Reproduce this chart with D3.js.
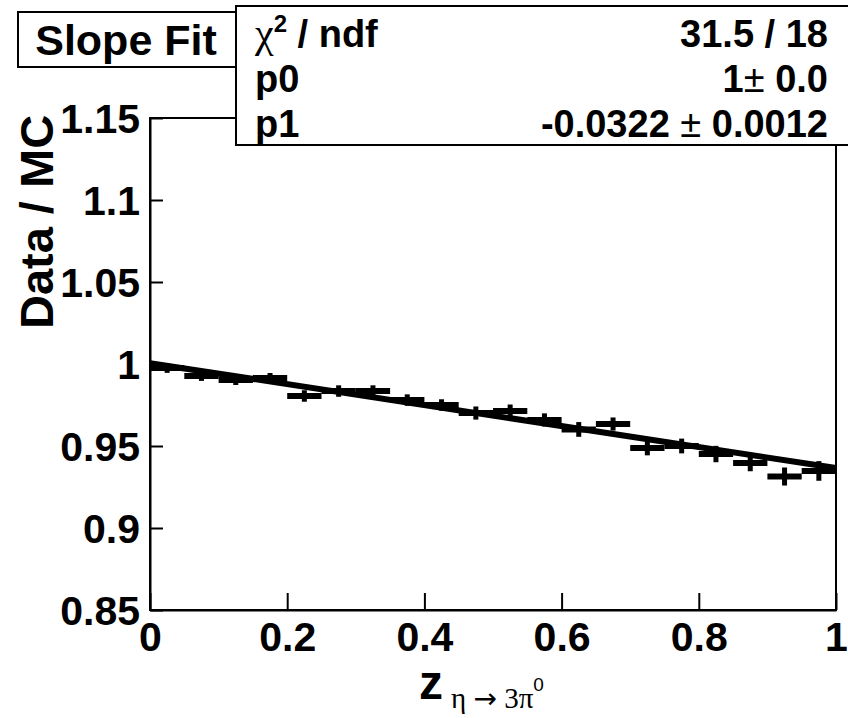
<!DOCTYPE html>
<html>
<head>
<meta charset="utf-8">
<script src="https://cdn.jsdelivr.net/npm/d3@7"></script>
<style>
  html, body { margin: 0; padding: 0; background: #fff; }
  svg { display: block; }
  text { font-family: "Liberation Sans", Arial, Helvetica, sans-serif; font-weight: bold; fill: #000; }
</style>
</head>
<body>
<svg id="chart" width="848" height="718"></svg>
<script>
// ---- data ----
const binLow = [0.00,0.05,0.10,0.15,0.20,0.25,0.30,0.35,0.40,0.45,0.50,0.55,0.60,0.65,0.70,0.75,0.80,0.85,0.90,0.95];
const binHigh = [0.05,0.10,0.15,0.20,0.25,0.30,0.35,0.40,0.45,0.50,0.55,0.60,0.65,0.70,0.75,0.80,0.85,0.90,0.95,1.00];
const ratio = [0.9976,0.9927,0.9902,0.9915,0.9805,0.9835,0.9835,0.9780,0.9750,0.9701,
               0.9713,0.9659,0.9601,0.9634,0.9488,0.9500,0.9451,0.9396,0.9314,0.9348];
const ratioErr = [0.0030,0.0030,0.0030,0.0030,0.0035,0.0035,0.0035,0.0035,0.0035,0.0040,
                  0.0040,0.0040,0.0045,0.0040,0.0045,0.0045,0.0050,0.0050,0.0055,0.0060];
const fitX = [0, 1];
const fitY = [1.0005, 0.9366];
const yTicks = [0.85, 0.90, 0.95, 1.00, 1.05, 1.10, 1.15];
const yTickLabels = ["0.85","0.9","0.95","1","1.05","1.1","1.15"];
const xTicks = [0, 0.2, 0.4, 0.6, 0.8, 1.0];
const xTickLabels = ["0","0.2","0.4","0.6","0.8","1"];
const statNames = ["χ2 / ndf", "p0", "p1"];
const statValues = ["31.5 / 18", "1± 0.0", "-0.0322 ± 0.0012"];

// ---- layout ----
const L = 150, R = 836, T = 118, B = 610;
const svg = d3.select("#chart");
const x = d3.scaleLinear().domain([0, 1]).range([L, R]);
const y = d3.scaleLinear().domain([0.85, 1.15]).range([B, T]);

// frame
svg.append("rect").attr("x", L).attr("y", T).attr("width", R - L).attr("height", B - T)
  .attr("fill", "none").attr("stroke", "#000").attr("stroke-width", 2);

// axes
const yAxis = d3.axisLeft(y).tickValues(yTicks).tickSizeInner(-13).tickSizeOuter(0).tickPadding(10)
  .tickFormat((d, i) => yTickLabels[i]);
const gy = svg.append("g").attr("transform", `translate(${L},0)`).call(yAxis);
gy.select(".domain").attr("stroke-width", 2);
gy.selectAll(".tick line").attr("stroke-width", 2);
gy.selectAll(".tick text").attr("font-size", 41).attr("font-family", "Liberation Sans, Arial, sans-serif")
  .attr("font-weight", "bold").attr("dy", "0.36em");

const xAxis = d3.axisBottom(x).tickValues(xTicks).tickSizeInner(-17).tickSizeOuter(0).tickPadding(12)
  .tickFormat((d, i) => xTickLabels[i]);
const gx = svg.append("g").attr("transform", `translate(0,${B})`).call(xAxis);
gx.select(".domain").attr("stroke-width", 2);
gx.selectAll(".tick line").attr("stroke-width", 2);
gx.selectAll(".tick text").attr("font-size", 41).attr("font-family", "Liberation Sans, Arial, sans-serif")
  .attr("font-weight", "bold").attr("dy", "0.71em");

// data points
const pts = svg.append("g");
ratio.forEach((v, i) => {
  pts.append("line").attr("x1", x(binLow[i])).attr("x2", x(binHigh[i]))
    .attr("y1", y(v)).attr("y2", y(v)).attr("stroke", "#000").attr("stroke-width", 6);
  const c = (binLow[i] + binHigh[i]) / 2;
  pts.append("line").attr("x1", x(c)).attr("x2", x(c))
    .attr("y1", y(v - ratioErr[i])).attr("y2", y(v + ratioErr[i])).attr("stroke", "#000").attr("stroke-width", 5);
});

// fit line
svg.append("path").datum(fitX.map((d, i) => [d, fitY[i]]))
  .attr("d", d3.line().x(d => x(d[0])).y(d => y(d[1])))
  .attr("stroke", "#000").attr("stroke-width", 6).attr("fill", "none");

// Slope Fit box
svg.append("rect").attr("x", 18).attr("y", 12).attr("width", 218).attr("height", 55)
  .attr("fill", "#fff").attr("stroke", "#000").attr("stroke-width", 2);
svg.append("text").attr("x", 126).attr("y", 55).attr("text-anchor", "middle")
  .attr("font-size", 43).text("Slope Fit");

// Stats box
svg.append("rect").attr("x", 236).attr("y", 6).attr("width", 620).attr("height", 139)
  .attr("fill", "#fff").attr("stroke", "#000").attr("stroke-width", 2);
const rowY = [47, 92, 137];
const leftX = 255;
// row 1: chi2 / ndf
const t0 = svg.append("text").attr("x", leftX).attr("y", rowY[0]).attr("font-size", 38);
t0.append("tspan").attr("font-family", "Liberation Serif, Times New Roman, serif").attr("font-weight", "normal")
  .attr("font-size", 42).text("χ");
t0.append("tspan").attr("font-size", 24).attr("dy", -15).text("2");
t0.append("tspan").attr("dy", 15).text(" / ndf");
svg.append("text").attr("x", leftX).attr("y", rowY[1]).attr("font-size", 38).text(statNames[1]);
svg.append("text").attr("x", leftX).attr("y", rowY[2]).attr("font-size", 38).text(statNames[2]);
statValues.forEach((s, i) => {
  const t = svg.append("text").attr("x", 828).attr("y", rowY[i]).attr("font-size", 38).attr("text-anchor", "end");
  const parts = s.split("±");
  if (parts.length === 2) {
    t.append("tspan").text(parts[0]);
    t.append("tspan").attr("font-weight", "normal").text("±");
    t.append("tspan").text(parts[1]);
  } else {
    t.text(s);
  }
});

// y title
svg.append("text").attr("transform", "translate(53,222) rotate(-90)").attr("text-anchor", "middle")
  .attr("font-size", 47).text("Data / MC");

// x title
const xt = svg.append("text").attr("x", 419).attr("y", 699).attr("font-size", 48);
xt.append("tspan").text("z");
xt.append("tspan").attr("font-size", 29).attr("font-weight", "normal")
  .attr("font-family", "Liberation Serif, Times New Roman, serif").attr("dy", 9).attr("dx", 8).text("η ");
xt.append("tspan").attr("font-size", 28).attr("font-weight", "normal")
  .attr("font-family", "DejaVu Sans, sans-serif").text("→");
xt.append("tspan").attr("font-size", 29).attr("font-weight", "normal")
  .attr("font-family", "Liberation Serif, Times New Roman, serif").text(" 3π");
xt.append("tspan").attr("font-size", 19).attr("font-weight", "normal").attr("dy", -17).text("0");
</script>
</body>
</html>
